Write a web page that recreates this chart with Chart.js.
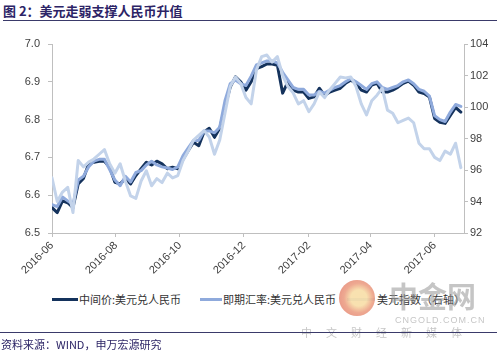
<!DOCTYPE html>
<html>
<head>
<meta charset="utf-8">
<script src="https://cdn.jsdelivr.net/npm/chart.js@4.4.1/dist/chart.umd.min.js"></script>
<style>
  body { margin: 0; width: 497px; height: 352px; background: #fff; position: relative; overflow: hidden;
         font-family: "Noto Sans CJK SC", "Liberation Sans", sans-serif; }
  .abs { position: absolute; white-space: nowrap; }
  #title { left: 3px; top: 1px; font-size: 13px; font-weight: bold; color: #2c2466; }
  #topLine { left: 3px; top: 20px; width: 494px; height: 1px; background: #3a3a6a; }
  #botLine { left: 0; top: 332px; width: 497px; height: 1px; background: #3a3a6a; }
  #source { left: 1px; top: 336px; font-size: 11px; color: #2c2466; }
  #wrap { left: 0; top: 22px; width: 497px; height: 268px; }
  .lg { font-size: 11px; color: #333; top: 291px; }
  .sw { height: 3px; top: 298px; }
  .wm { color: rgba(150,150,150,0.55); }
</style>
</head>
<body>
<div id="title" class="abs">图 2：美元走弱支撑人民币升值</div>
<div id="topLine" class="abs"></div>
<div id="wrap" class="abs"><canvas id="myChart" width="497" height="268"></canvas></div>

<div class="abs sw" style="left:52px;width:26px;background:#14325c"></div>
<div class="abs lg" style="left:79px">中间价:美元兑人民币</div>
<div class="abs sw" style="left:200px;width:22px;background:#8faadc"></div>
<div class="abs lg" style="left:223px">即期汇率:美元兑人民币</div>
<div class="abs sw" style="left:347px;width:28px;background:#c3d3ea"></div>
<div class="abs lg" style="left:377px">美元指数（右轴）</div>

<div class="abs" style="left:339px;top:280px;width:36px;height:36px;border-radius:50%;opacity:0.85;
  background:radial-gradient(circle at 55% 50%, #f7dca2 0 30%, #eb9a7e 55%, #e07468 100%)"></div>
<div class="abs wm" style="left:389px;top:274px;font-size:29px;font-weight:bold">中金网</div>
<div class="abs wm" style="left:395px;top:315px;font-size:9px;letter-spacing:1px;font-family:'Liberation Sans'">CNGOLD.COM.CN</div>
<div class="abs wm" style="left:301px;top:324px;font-size:11px;letter-spacing:14px">中文财经新媒体</div>

<div id="botLine" class="abs"></div>
<div id="source" class="abs">资料来源：WIND，申万宏源研究</div>

<script>
'use strict'

const dates = [
  '2016-06-01','2016-06-06','2016-06-11','2016-06-16','2016-06-21','2016-06-26','2016-07-01','2016-07-06',
  '2016-07-11','2016-07-16','2016-07-21','2016-07-26','2016-07-31','2016-08-05','2016-08-10','2016-08-15',
  '2016-08-20','2016-08-25','2016-08-30','2016-09-04','2016-09-09','2016-09-14','2016-09-19','2016-09-24',
  '2016-09-29','2016-10-04','2016-10-09','2016-10-14','2016-10-19','2016-10-24','2016-10-29','2016-11-03',
  '2016-11-08','2016-11-13','2016-11-18','2016-11-23','2016-11-28','2016-12-03','2016-12-08','2016-12-13',
  '2016-12-18','2016-12-23','2016-12-28','2017-01-02','2017-01-07','2017-01-12','2017-01-17','2017-01-22',
  '2017-01-27','2017-02-01','2017-02-06','2017-02-11','2017-02-16','2017-02-21','2017-02-26','2017-03-03',
  '2017-03-08','2017-03-13','2017-03-18','2017-03-23','2017-03-28','2017-04-02','2017-04-07','2017-04-12',
  '2017-04-17','2017-04-22','2017-04-27','2017-05-02','2017-05-07','2017-05-12','2017-05-17','2017-05-22',
  '2017-05-27','2017-06-01','2017-06-06','2017-06-11','2017-06-16','2017-06-21','2017-06-26'
];

const midRate = [
  6.567, 6.554, 6.585, 6.580, 6.567, 6.630, 6.644, 6.683, 6.687, 6.690,
  6.690, 6.674, 6.634, 6.630, 6.644, 6.630, 6.652, 6.670, 6.687, 6.680,
  6.690, 6.683, 6.670, 6.674, 6.670, 6.695, 6.718, 6.740, 6.731, 6.767,
  6.777, 6.753, 6.777, 6.833, 6.886, 6.913, 6.900, 6.878, 6.900, 6.935,
  6.940, 6.947, 6.947, 6.944, 6.870, 6.900, 6.878, 6.873, 6.873, 6.856,
  6.860, 6.883, 6.864, 6.873, 6.878, 6.883, 6.896, 6.904, 6.896, 6.878,
  6.873, 6.891, 6.896, 6.873, 6.873, 6.878, 6.886, 6.896, 6.902, 6.891,
  6.873, 6.869, 6.860, 6.803, 6.793, 6.790, 6.811, 6.832, 6.820
];

const spotRate = [
  6.575, 6.570, 6.595, 6.585, 6.575, 6.640, 6.650, 6.675, 6.690, 6.695,
  6.695, 6.668, 6.640, 6.625, 6.650, 6.635, 6.660, 6.665, 6.680, 6.690,
  6.680, 6.675, 6.672, 6.668, 6.675, 6.705, 6.725, 6.745, 6.745, 6.770,
  6.770, 6.765, 6.780, 6.850, 6.895, 6.905, 6.895, 6.890, 6.915, 6.945,
  6.950, 6.955, 6.955, 6.950, 6.925, 6.905, 6.885, 6.880, 6.880, 6.865,
  6.865, 6.875, 6.870, 6.878, 6.885, 6.890, 6.900, 6.908, 6.900, 6.890,
  6.880, 6.895, 6.900, 6.885, 6.880, 6.885, 6.890, 6.900, 6.905, 6.895,
  6.880, 6.875, 6.862, 6.810, 6.800, 6.795, 6.820, 6.840, 6.835
];

const dollarIndex = [
  95.5, 94.0, 94.6, 94.9, 93.3, 96.6, 96.2, 96.5, 96.7, 97.0,
  97.3, 96.4, 95.8, 96.4, 95.3, 94.35, 94.2, 95.3, 95.95, 95.0,
  95.45, 95.2, 95.8, 95.5, 95.65, 96.6, 97.2, 97.9, 98.2, 98.5,
  98.1, 97.0, 97.9, 99.6, 101.3, 101.9, 101.5, 100.6, 100.2, 102.35,
  103.2, 103.3, 102.85, 103.2, 102.0, 101.3, 100.9, 100.2, 100.4, 99.7,
  100.2, 100.95, 100.6, 101.1, 101.5, 101.9, 101.85, 101.9, 101.3, 100.2,
  99.5, 100.4, 100.75, 101.2, 99.8, 99.6, 99.0, 99.15, 99.3, 99.0,
  97.7, 97.35, 97.35, 96.8, 96.6, 97.2, 97.0, 97.7, 96.15
];

const xTickLabels = ['2016-06','2016-08','2016-10','2016-12','2017-02','2017-04','2017-06'];

const t0 = Date.parse(dates[0]);
const dayOf = s => Math.round((Date.parse(s) - t0) / 86400000);
const xDays = dates.map(dayOf);
const xTickDays = xTickLabels.map(s => dayOf(s + '-01'));

const toPoints = vals => vals.map((v, i) => ({x: xDays[i], y: v}));

const tickFont = {family: 'Liberation Sans', size: 11};
const axisGrey = '#bfbfbf';

let fxChart;

const DocumentReady = () => {
  const ctx = document.getElementById('myChart');

  fxChart = new Chart(ctx, {
    type: 'line',
    data: {
      datasets: [
        {label: '中间价:美元兑人民币', data: toPoints(midRate), yAxisID: 'y',
         borderColor: '#14325c', borderWidth: 3, order: 3},
        {label: '即期汇率:美元兑人民币', data: toPoints(spotRate), yAxisID: 'y',
         borderColor: '#8faadc', borderWidth: 3, order: 2},
        {label: '美元指数（右轴）', data: toPoints(dollarIndex), yAxisID: 'y1',
         borderColor: '#c3d3ea', borderWidth: 3, order: 1}
      ]
    },
    options: {
      responsive: false,
      animation: false,
      elements: {point: {radius: 0}, line: {tension: 0, borderJoinStyle: 'round', borderCapStyle: 'round'}},
      layout: {padding: {top: 22, left: 0, right: 0, bottom: 0}},
      plugins: {legend: {display: false}, tooltip: {enabled: false}},
      scales: {
        x: {
          type: 'linear',
          min: 0,
          max: 393,
          afterBuildTicks: scale => { scale.ticks = xTickDays.map(v => ({value: v})); },
          afterFit: scale => { scale.height = 57; },
          ticks: {
            autoSkip: false, minRotation: 45, maxRotation: 45, padding: 2,
            color: '#404040', font: tickFont,
            callback: (v, i) => xTickLabels[i]
          },
          grid: {display: true, drawOnChartArea: false, drawTicks: true, tickLength: 4, color: axisGrey},
          border: {display: true, color: axisGrey}
        },
        y: {
          position: 'left',
          min: 6.5,
          max: 7.0,
          afterFit: scale => { scale.width = 52; },
          ticks: {stepSize: 0.1, padding: 8, color: '#404040', font: tickFont, callback: v => v.toFixed(1)},
          grid: {display: true, drawOnChartArea: false, drawTicks: true, tickLength: 4, color: axisGrey},
          border: {display: true, color: axisGrey}
        },
        y1: {
          position: 'right',
          min: 92,
          max: 104,
          afterFit: scale => { scale.width = 33; },
          ticks: {stepSize: 2, padding: 2, color: '#404040', font: tickFont},
          grid: {display: true, drawOnChartArea: false, drawTicks: true, tickLength: 4, color: axisGrey},
          border: {display: true, color: axisGrey}
        }
      }
    }
  });
}

document.addEventListener("DOMContentLoaded", DocumentReady);
</script>
</body>
</html>
